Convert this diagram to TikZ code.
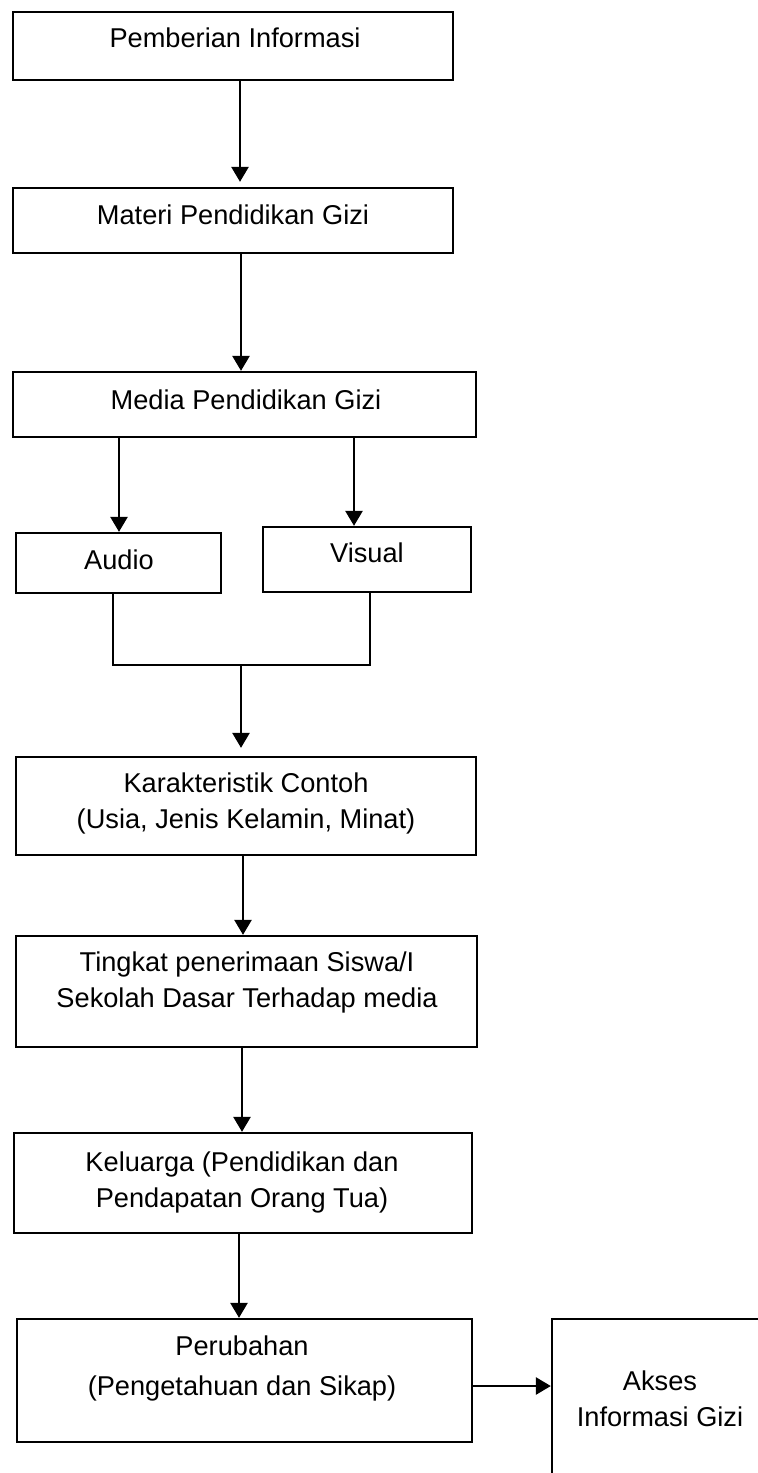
\documentclass[tikz,border=0pt]{standalone}
\usepackage{fontspec}
\setmainfont{Liberation Sans}
\usetikzlibrary{arrows.meta,fit}
\begin{document}
\begin{tikzpicture}[x=0.5pt,y=-0.5pt,
  bx/.style={draw, line width=1.15pt, inner sep=0pt, rectangle},
  txt/.style={font=\fontsize{13.6}{18}\selectfont, align=center, inner sep=0pt},
  arr/.style={line width=1.3pt, -{Triangle[length=7.5pt,width=8.5pt]}},
  ln/.style={line width=1.1pt}]
\clip (0,0) rectangle (758,1473);
\fill[white] (0,0) rectangle (758,1473);
% boxes
\node[bx, fit={(13,12) (453,80)}] (b1) {};
\node[bx, fit={(13,188) (453,253)}] (b2) {};
\node[bx, fit={(13,372) (476,437)}] (b3) {};
\node[bx, fit={(16,533) (221,593)}] (audio) {};
\node[bx, fit={(263,527) (471,592)}] (visual) {};
\node[bx, fit={(16,757) (476,855)}] (b4) {};
\node[bx, fit={(16,936) (477,1047)}] (b5) {};
\node[bx, fit={(14,1133) (472,1233)}] (b6) {};
\node[bx, fit={(17,1319) (472,1442)}] (b7) {};
\node[bx, fit={(552,1319) (800,1530)}] (b8) {};
% texts
\node[txt] (t1) at (235,38) {Pemberian Informasi};
\node[txt] (t2) at (233,215) {Materi Pendidikan Gizi};
\node[txt] (t3) at (246,400) {Media Pendidikan Gizi};
\node[txt] (ta) at (119,560) {Audio};
\node[txt] (tv) at (367,553) {Visual};
\node[txt] (t4) at (246,803) {Karakteristik Contoh\\(Usia, Jenis Kelamin, Minat)};
\node[txt] (t5) at (247,982) {Tingkat penerimaan Siswa/I\\Sekolah Dasar Terhadap media};
\node[txt] (t6) at (242,1182) {Keluarga (Pendidikan dan\\Pendapatan Orang Tua)};
\node[txt, font=\fontsize{13.6}{20}\selectfont] (t7) at (242,1368) {Perubahan\\(Pengetahuan dan Sikap)};
\node[txt] (t8) at (660,1399) {Akses\\Informasi Gizi};
% helper coordinates
\coordinate (x240) at (240,0);
\coordinate (x241) at (241,0);
\coordinate (x119) at (119,0);
\coordinate (x354) at (354,0);
\coordinate (x243) at (243,0);
\coordinate (x242) at (242,0);
\coordinate (x239) at (239,0);
\coordinate (y1386) at (0,1386);
\coordinate (mL) at (113,665);
\coordinate (mR) at (370,665);
\coordinate (m) at (241,665);
% connectors
\draw[arr, shorten >=2.5pt] (b1.south -| x240) -- (b2.north -| x240);
\draw[arr] (b2.south -| x241) -- (b3.north -| x241);
\draw[arr] (b3.south -| x119) -- (audio.north -| x119);
\draw[arr] (b3.south -| x354) -- (visual.north -| x354);
\draw[ln] (audio.south -| mL) -- (mL) -- (mR) -- (visual.south -| mR);
\draw[arr, shorten >=4pt] (m) -- (b4.north -| m);
\draw[arr] (b4.south -| x243) -- (b5.north -| x243);
\draw[arr] (b5.south -| x242) -- (b6.north -| x242);
\draw[arr] (b6.south -| x239) -- (b7.north -| x239);
\draw[arr] (b7.east |- y1386) -- (b8.west |- y1386);
\end{tikzpicture}
\end{document}
